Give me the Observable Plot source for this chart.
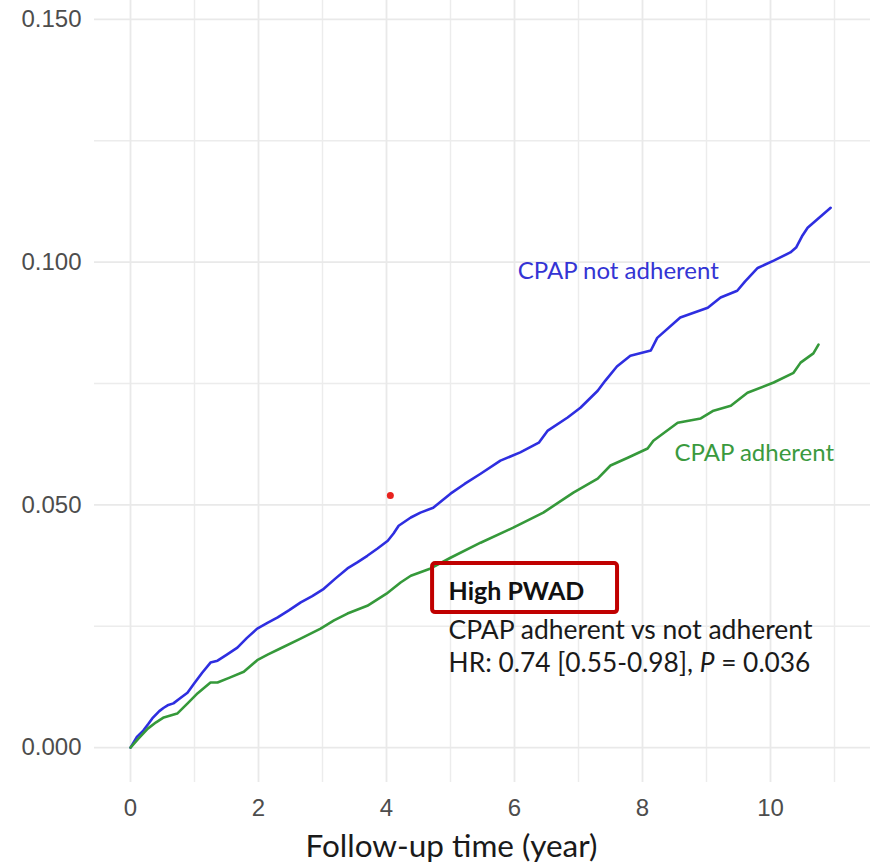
<!DOCTYPE html>
<html>
<head>
<meta charset="utf-8">
<script src="https://cdn.jsdelivr.net/npm/d3@7"></script>
<script src="https://cdn.jsdelivr.net/npm/@observablehq/plot@0.6"></script>
<style>
  body { margin: 0; background: #fff; }
  #chart svg { display: block; }
</style>
</head>
<body>
<div id="chart"></div>
<script>
// ---- Data ----
const notAdherentTime = [0, 0.10, 0.20, 0.28, 0.34, 0.45, 0.52, 0.58, 0.67, 0.78, 0.89, 1.00, 1.12, 1.25, 1.36, 1.50, 1.67, 1.82, 1.98, 2.14, 2.30, 2.48, 2.66, 2.84, 3.02, 3.20, 3.39, 3.55, 3.70, 3.86, 4.02, 4.11, 4.19, 4.38, 4.53, 4.73, 4.86, 5.00, 5.22, 5.47, 5.78, 6.09, 6.38, 6.52, 6.83, 7.03, 7.30, 7.42, 7.60, 7.81, 8.13, 8.23, 8.59, 9.02, 9.22, 9.48, 9.60, 9.80, 10.05, 10.31, 10.40, 10.50, 10.58, 10.94];
const notAdherentRisk = [0, 0.0022, 0.0035, 0.0049, 0.0060, 0.0075, 0.0082, 0.0087, 0.0091, 0.0102, 0.0113, 0.0133, 0.0154, 0.0175, 0.0179, 0.0191, 0.0206, 0.0226, 0.0245, 0.0257, 0.0268, 0.0283, 0.0299, 0.0312, 0.0327, 0.0348, 0.0369, 0.0382, 0.0395, 0.0410, 0.0426, 0.0441, 0.0457, 0.0474, 0.0484, 0.0494, 0.0508, 0.0523, 0.0543, 0.0564, 0.0591, 0.0608, 0.0628, 0.0653, 0.0680, 0.0700, 0.0735, 0.0756, 0.0785, 0.0807, 0.0818, 0.0844, 0.0886, 0.0906, 0.0927, 0.0941, 0.0960, 0.0988, 0.1003, 0.1020, 0.1030, 0.1055, 0.1071, 0.1112];

const adherentTime = [0, 0.12, 0.27, 0.40, 0.52, 0.73, 0.90, 1.05, 1.25, 1.36, 1.55, 1.77, 1.98, 2.15, 2.34, 2.65, 2.97, 3.18, 3.39, 3.70, 4.00, 4.22, 4.38, 4.69, 5.00, 5.47, 5.98, 6.45, 6.92, 7.30, 7.50, 7.77, 8.08, 8.17, 8.55, 8.91, 9.11, 9.38, 9.64, 10.05, 10.36, 10.47, 10.67, 10.75];
const adherentRisk = [0, 0.0018, 0.0039, 0.0052, 0.0062, 0.0070, 0.0092, 0.0112, 0.0134, 0.0134, 0.0144, 0.0156, 0.0180, 0.0192, 0.0204, 0.0224, 0.0245, 0.0262, 0.0276, 0.0292, 0.0317, 0.0340, 0.0354, 0.0369, 0.0391, 0.0422, 0.0453, 0.0484, 0.0525, 0.0554, 0.0581, 0.0597, 0.0616, 0.0632, 0.0669, 0.0678, 0.0694, 0.0704, 0.0731, 0.0752, 0.0772, 0.0793, 0.0812, 0.0830];

const markerPoint = [{time: 4.06, risk: 0.0519}];

const xTicks = [0, 2, 4, 6, 8, 10];
const xMinorTicks = [1, 3, 5, 7, 9, 11];
const yTicks = [0, 0.05, 0.10, 0.15];
const yMinorTicks = [0.025, 0.075, 0.125];

const xTitle = "Follow-up time (year)";
const seriesLabels = ["CPAP not adherent", "CPAP adherent"];
const boxTitle = "High PWAD";
const boxLine1 = "CPAP adherent vs not adherent";
const boxLine2 = "HR: 0.74 [0.55-0.98], P = 0.036";

// ---- Build tables ----
const notAdherent = notAdherentTime.map((t, i) => ({time: t, risk: notAdherentRisk[i]}));
const adherent = adherentTime.map((t, i) => ({time: t, risk: adherentRisk[i]}));

const labelFont = "Lato";
const blue = "#2e2ee0";
const green = "#35993a";

const chart = Plot.plot({
  width: 877,
  height: 864,
  marginLeft: 94,
  marginRight: 7,
  marginTop: 0,
  marginBottom: 82,
  style: {fontFamily: "Liberation Sans", background: "#fff"},
  x: {domain: [-0.5625, 11.5625], axis: null},
  y: {domain: [-0.0072, 0.1539], axis: null},
  marks: [
    Plot.ruleX(xMinorTicks, {stroke: "#ececec", strokeWidth: 1.4}),
    Plot.ruleY(yMinorTicks, {stroke: "#ececec", strokeWidth: 1.4}),
    Plot.ruleX(xTicks, {stroke: "#e9e9e9", strokeWidth: 1.8}),
    Plot.ruleY(yTicks, {stroke: "#e9e9e9", strokeWidth: 1.8}),
    Plot.axisY(yTicks, {
      tickSize: 0, tickPadding: 13, fontSize: 24, color: "#4d4d4d",
      tickFormat: d3.format(".3f"), label: null
    }),
    Plot.axisX(xTicks, {
      tickSize: 0, tickPadding: 16, fontSize: 24, color: "#4d4d4d",
      tickFormat: d3.format("d"), label: null
    }),
    Plot.text([xTitle], {
      frameAnchor: "bottom", lineAnchor: "middle", dx: -31, dy: 64, fontSize: 31.5,
      fontFamily: labelFont, fill: "#1a1a1a"
    }),
    Plot.line(notAdherent, {x: "time", y: "risk", stroke: blue, strokeWidth: 2.6}),
    Plot.line(adherent, {x: "time", y: "risk", stroke: green, strokeWidth: 2.6}),
    Plot.dot(markerPoint, {x: "time", y: "risk", r: 3.5, fill: "#e8221e", stroke: null}),
    Plot.text([seriesLabels[0]], {x: 6.05, y: 0.0982, textAnchor: "start", fontSize: 24, fontFamily: labelFont, fill: "#3434d4"}),
    Plot.text([seriesLabels[1]], {x: 8.5, y: 0.0606, textAnchor: "start", fontSize: 24, fontFamily: labelFont, fill: "#3a9a3e"}),
    Plot.rect([boxTitle], {x1: 4.72, x2: 7.61, y1: 0.0278, y2: 0.0379, fill: "none", stroke: "#c00000", strokeWidth: 4, rx: 3}),
    Plot.text([boxTitle], {x: 4.97, y: 0.0321, textAnchor: "start", fontSize: 25, fontWeight: "bold", fontFamily: labelFont, fill: "#111"}),
    Plot.text([boxLine1], {x: 4.97, y: 0.0241, textAnchor: "start", fontSize: 26.5, fontFamily: labelFont, fill: "#1a1a1a"}),
    Plot.text([boxLine2], {x: 4.97, y: 0.0173, textAnchor: "start", fontSize: 26.3, fontFamily: labelFont, fill: "#1a1a1a"})
  ]
});

// Italicise the "P" of the HR line, keeping it as real text
chart.querySelectorAll("text").forEach(t => {
  if (t.textContent === boxLine2) {
    t.textContent = "";
    t.setAttribute("style", "white-space: pre");
    const parts = [["HR: 0.74 [0.55-0.98], ", "normal"], ["P", "italic"], [" = 0.036", "normal"]];
    for (const [s, st] of parts) {
      const ts = document.createElementNS("http://www.w3.org/2000/svg", "tspan");
      ts.textContent = s;
      ts.setAttribute("font-style", st);
      t.appendChild(ts);
    }
  }
});

document.getElementById("chart").appendChild(chart);
</script>
</body>
</html>
